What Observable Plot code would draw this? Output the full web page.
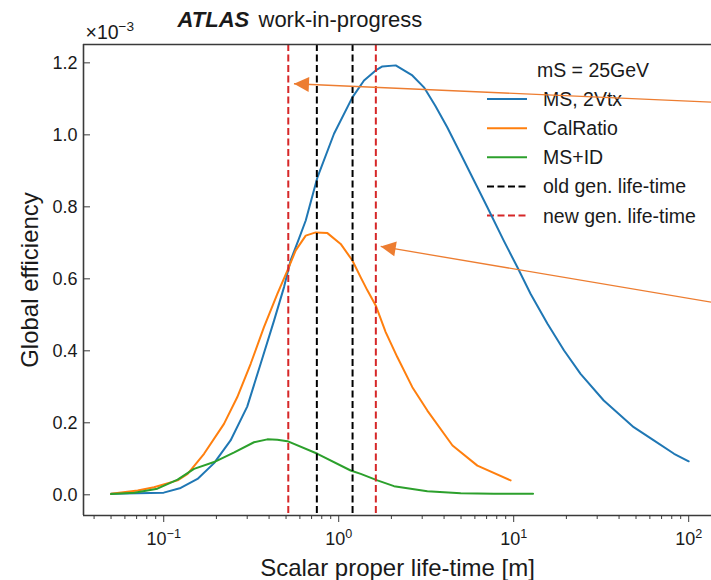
<!DOCTYPE html>
<html>
<head>
<meta charset="utf-8">
<script src="https://cdn.jsdelivr.net/npm/d3@7"></script>
<script src="https://cdn.jsdelivr.net/npm/@observablehq/plot@0.6"></script>
<style>
  html, body { margin: 0; padding: 0; background: #fff; overflow: hidden; }
  #fig { position: relative; width: 711px; height: 580px; font-family: "Liberation Sans", Arial, sans-serif; color: #1a1a1a; }
  #legend, #chart { position: absolute; left: 0; top: 0; }
  #legend { z-index: 0; }
  #chart { z-index: 1; }
</style>
</head>
<body>
<div id="fig"><div id="legend"></div><div id="chart"></div></div>
<script>
// Global efficiency (in units of 1e-3) versus scalar proper life-time [m], mS = 25 GeV
const msLifetime = [0.05, 0.1, 0.125, 0.156, 0.194, 0.241, 0.3, 0.358, 0.427, 0.487,
  0.531, 0.587, 0.648, 0.756, 0.94, 1.197, 1.395, 1.627, 1.776, 2.117,
  2.635, 3.07, 3.57, 4.17, 4.98, 5.67, 7.07, 8.77, 10.5, 12.5,
  15.6, 19.4, 24.1, 32.7, 48.5, 63.2, 82.5, 100];
const msEff = [0.003, 0.006, 0.019, 0.044, 0.088, 0.151, 0.245, 0.364, 0.484, 0.577,
  0.651, 0.706, 0.762, 0.882, 1.003, 1.104, 1.151, 1.179, 1.19, 1.193,
  1.165, 1.132, 1.08, 1.021, 0.947, 0.892, 0.799, 0.706, 0.632, 0.558,
  0.475, 0.401, 0.336, 0.262, 0.188, 0.151, 0.114, 0.093];

const calLifetime = [0.05, 0.071, 0.088, 0.12, 0.137, 0.17, 0.221, 0.263, 0.314, 0.374,
  0.446, 0.509, 0.568, 0.648, 0.739, 0.862, 1.026, 1.197, 1.336, 1.458,
  1.627, 1.855, 2.165, 2.635, 3.21, 4.47, 6.2, 9.6];
const calEff = [0.003, 0.012, 0.021, 0.040, 0.058, 0.114, 0.197, 0.271, 0.364, 0.466,
  0.558, 0.623, 0.679, 0.720, 0.729, 0.727, 0.697, 0.651, 0.604, 0.568,
  0.526, 0.452, 0.382, 0.299, 0.234, 0.137, 0.081, 0.040];

const msidLifetime = [0.05, 0.068, 0.092, 0.12, 0.149, 0.194, 0.253, 0.328, 0.391, 0.446,
  0.509, 0.756, 1.17, 1.336, 1.664, 2.07, 3.21, 4.98, 7.7, 12.9];
const msidEff = [0.002, 0.006, 0.017, 0.042, 0.072, 0.091, 0.118, 0.146, 0.154, 0.153,
  0.149, 0.114, 0.0675, 0.058, 0.040, 0.024, 0.010, 0.0045, 0.003, 0.003];

// generator life-time settings [m]
const oldLifetimes = [0.75, 1.2];
const newLifetimes = [0.515, 1.63];

// annotation arrows: start (at the right edge) and tip, in data units
const arrowStartX = [135, 135];
const arrowStartY = [1.091, 0.535];
const arrowTipX = [0.555, 1.738];
const arrowTipY = [1.142, 0.690];

// axis ticks
const xMajorTicks = [0.1, 1, 10, 100];
const xMinorTicks = [0.04, 0.05, 0.06, 0.07, 0.08, 0.09, 0.2, 0.3, 0.4, 0.5, 0.6, 0.7, 0.8, 0.9,
  2, 3, 4, 5, 6, 7, 8, 9, 20, 30, 40, 50, 60, 70, 80, 90];
const yTicks = [0, 0.2, 0.4, 0.6, 0.8, 1.0, 1.2];

// legend
const legendTitle = "mS = 25GeV";
const legendLabels = ["MS, 2Vtx", "CalRatio", "MS+ID", "old gen. life-time", "new gen. life-time"];

const C = {blue: "#1f77b4", orange: "#ff7f0e", green: "#2ca02c", red: "#d62728", black: "#000000", arrow: "#ed7d31", spine: "#3a3a3a"};
const legendColors = [C.blue, C.orange, C.green, C.black, C.red];
const legendDashes = [null, null, null, "7,3.5", "7,3.5"];

const font = '"Liberation Sans", Arial, sans-serif';
const W = 711, H = 580, mL = 83, mR = 0, mT = 44, mB = 65;
const xDomain = [0.0348, 135];
const yDomain = [-0.0575, 1.251];

const toRows = (xs, ys) => xs.map((x, i) => ({x, y: ys[i]}));
const ms = toRows(msLifetime, msEff);
const cal = toRows(calLifetime, calEff);
const msid = toRows(msidLifetime, msidEff);

// arrow-head orientation follows the arrow direction in screen space
const sx = d3.scaleLog().domain(xDomain).range([mL, W - mR]);
const sy = d3.scaleLinear().domain(yDomain).range([H - mB, mT]);
const arrows = arrowTipX.map((x, i) => {
  const dx = sx(x) - sx(arrowStartX[i]);
  const dy = sy(arrowTipY[i]) - sy(arrowStartY[i]);
  const n = Math.hypot(dx, dy);
  return {x1: arrowStartX[i], y1: arrowStartY[i], x2: x, y2: arrowTipY[i],
          angle: Math.atan2(dx / n, -dy / n) * 180 / Math.PI};
});
// filled triangular head with its tip at the origin, pointing up
const arrowHead = {draw(context) {
  context.moveTo(0, 0);
  context.lineTo(7.5, 15);
  context.lineTo(-7.5, 15);
  context.closePath();
}};

const sup = (base, exp) => `${base}^{${exp}}`;

const chart = Plot.plot({
  width: W, height: H,
  marginLeft: mL, marginRight: mR, marginTop: mT, marginBottom: mB,
  style: {background: "transparent", fontFamily: font, fontSize: "18px", color: "#1a1a1a"},
  x: {type: "log", domain: xDomain},
  y: {domain: yDomain},
  marks: [
    Plot.line(ms, {x: "x", y: "y", stroke: C.blue, strokeWidth: 2}),
    Plot.line(cal, {x: "x", y: "y", stroke: C.orange, strokeWidth: 2}),
    Plot.line(msid, {x: "x", y: "y", stroke: C.green, strokeWidth: 2}),
    Plot.ruleX(oldLifetimes, {stroke: C.black, strokeWidth: 2, strokeDasharray: "7,3.5"}),
    Plot.ruleX(newLifetimes, {stroke: C.red, strokeWidth: 2, strokeDasharray: "7,3.5"}),
    // spines
    Plot.ruleX([xDomain[0]], {stroke: C.spine, strokeWidth: 1.6}),
    Plot.ruleY(yDomain, {stroke: C.spine, strokeWidth: 1.6}),
    // axes
    Plot.axisX({ticks: xMajorTicks, tickSize: 7, tickPadding: 10, stroke: C.spine,
      tickFormat: d => sup("10", String(Math.round(Math.log10(d))).replace("-", "\u2212")),
      label: null, fontSize: 18}),
    Plot.axisX({ticks: xMinorTicks, tickSize: 4, tickFormat: () => "", label: null, stroke: C.spine}),
    Plot.axisY({ticks: yTicks, tickSize: -7, tickPadding: 13, stroke: C.spine,
      tickFormat: d3.format(".1f"), label: null, fontSize: 18}),
    // axis titles, offset multiplier and header
    Plot.text(["Scalar proper life-time [m]"], {frameAnchor: "bottom", textAnchor: "middle", lineAnchor: "bottom", dy: 60, fontSize: 24}),
    Plot.text(["Global efficiency"], {frameAnchor: "left", textAnchor: "middle", rotate: -90, dx: -53, fontSize: 24}),
    Plot.text([sup("\u00d710", "\u22123")], {frameAnchor: "top-left", textAnchor: "start", lineAnchor: "bottom", dx: 2, dy: -6, fontSize: 19.5}),
    Plot.text(["ATLAS"], {frameAnchor: "top-left", textAnchor: "start", lineAnchor: "bottom", dx: 94, dy: -18, fontSize: 22, fontWeight: "bold", fontStyle: "italic"}),
    Plot.text(["work-in-progress"], {frameAnchor: "top-left", textAnchor: "start", lineAnchor: "bottom", dx: 175, dy: -18, fontSize: 22}),
    // annotation arrows
    Plot.link(arrows, {x1: "x1", y1: "y1", x2: "x2", y2: "y2", stroke: C.arrow, strokeWidth: 1.3}),
    Plot.dot(arrows, {x: "x2", y: "y2", symbol: arrowHead, rotate: "angle", fill: C.arrow, stroke: "none"})
  ]
});
document.getElementById("chart").appendChild(chart);

// render "base^{exp}" labels with a raised, smaller exponent
d3.select(chart).selectAll("text").each(function () {
  const m = /^(.*)\^\{(.*)\}$/.exec(this.textContent);
  if (!m) return;
  const fs = parseFloat(getComputedStyle(this).fontSize);
  const t = d3.select(this).text(null);
  t.append("tspan").text(m[1]);
  t.append("tspan").attr("font-size", fs * 0.7).attr("dy", -fs * 0.4).text(m[2]);
});

// legend (drawn beneath the chart layer, no background box)
const lg = d3.select("#legend").append("svg").attr("width", W).attr("height", H)
  .style("font-family", font).style("font-size", "19.5px").style("fill", "#1a1a1a");
lg.append("text").attr("x", 593).attr("y", 70).attr("text-anchor", "middle")
  .attr("dominant-baseline", "central").text(legendTitle);
legendLabels.forEach((label, i) => {
  const y = 99 + i * 29.15;
  lg.append("line").attr("x1", 487).attr("x2", 527).attr("y1", y).attr("y2", y)
    .attr("stroke", legendColors[i]).attr("stroke-width", 2)
    .attr("stroke-dasharray", legendDashes[i]);
  lg.append("text").attr("x", 543).attr("y", y).attr("dominant-baseline", "central").text(label);
});
</script>
</body>
</html>
